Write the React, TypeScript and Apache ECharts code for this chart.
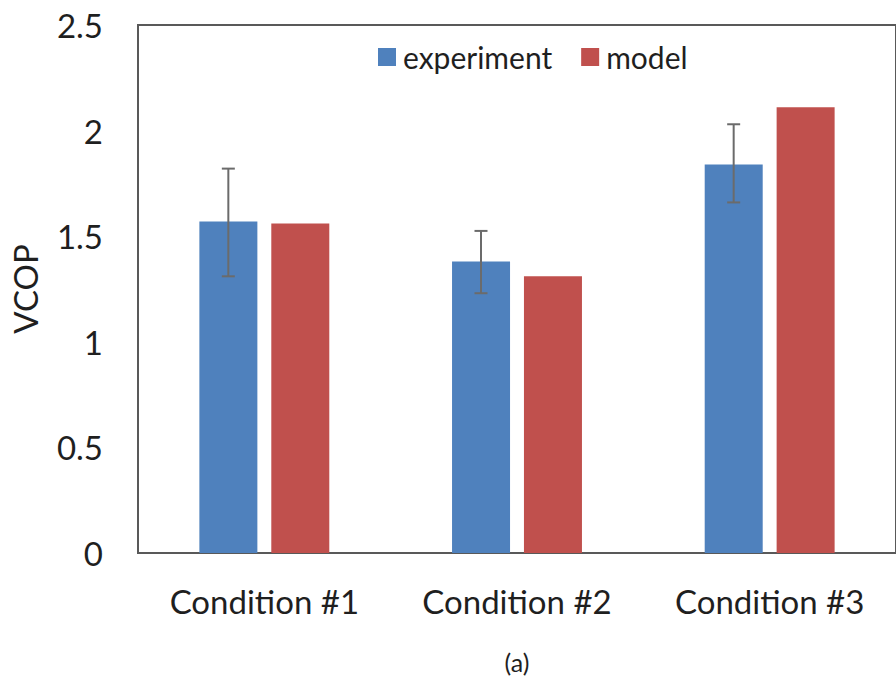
import React, { useEffect, useRef } from "react";
import * as echarts from "echarts";

const categories = ["Condition #1", "Condition #2", "Condition #3"];
const experiment = [1.57, 1.38, 1.84];
const model = [1.56, 1.31, 2.11];
const errLow = [1.31, 1.23, 1.66];
const errHigh = [1.82, 1.525, 2.03];
const yTicks = { min: 0, max: 2.5, interval: 0.5 };

const FONT = "Lato";
const TEXT = "#1f1f1f";

export default function App() {
  const ref = useRef<HTMLDivElement>(null);
  useEffect(() => {
    if (!ref.current) return;
    document.body.style.margin = "0";
    const chart = echarts.init(ref.current, undefined, { renderer: "svg" });
    const errData = categories.map((_, i) => [i, errLow[i], errHigh[i]]);
    chart.setOption({
      animation: false,
      backgroundColor: "#ffffff",
      grid: {
        left: 137,
        top: 25,
        width: 766,
        height: 528,
        show: true,
        borderColor: "#595959",
        borderWidth: 2,
      },
      legend: {
        top: 37,
        left: 373,
        itemWidth: 18,
        itemHeight: 18,
        itemGap: 29,
        icon: "rect",
        textStyle: { fontFamily: FONT, fontSize: 30, color: TEXT, padding: [0, 0, 0, 2] },
        data: ["experiment", "model"],
      },
      xAxis: {
        type: "category",
        data: categories,
        axisLine: { lineStyle: { color: "#595959", width: 2 } },
        axisTick: { show: false },
        axisLabel: { fontFamily: FONT, fontSize: 33, color: TEXT, margin: 31 },
      },
      yAxis: {
        type: "value",
        min: yTicks.min,
        max: yTicks.max,
        interval: yTicks.interval,
        name: "VCOP",
        nameLocation: "middle",
        nameGap: 97,
        nameTextStyle: { fontFamily: FONT, fontSize: 33, color: TEXT },
        axisLine: { show: true, lineStyle: { color: "#595959", width: 2 } },
        axisTick: { show: false },
        splitLine: { show: false },
        axisLabel: { fontFamily: FONT, fontSize: 33, color: TEXT, margin: 35 },
      },
      series: [
        {
          name: "experiment",
          type: "bar",
          data: experiment,
          barWidth: 58,
          barGap: "24%",
          itemStyle: { color: "#4F81BD" },
        },
        {
          name: "model",
          type: "bar",
          data: model,
          barWidth: 58,
          itemStyle: { color: "#C0504D" },
        },
        {
          type: "custom",
          name: "error",
          data: errData,
          z: 10,
          renderItem: (params: any, api: any) => {
            const idx = api.value(0);
            const lo = api.coord([idx, api.value(1)]);
            const hi = api.coord([idx, api.value(2)]);
            const x = lo[0] - 36;
            const cap = 6.5;
            const style = { stroke: "#6b6b6b", lineWidth: 2 };
            return {
              type: "group",
              children: [
                { type: "line", shape: { x1: x, y1: lo[1], x2: x, y2: hi[1] }, style },
                { type: "line", shape: { x1: x - cap, y1: hi[1], x2: x + cap, y2: hi[1] }, style },
                { type: "line", shape: { x1: x - cap, y1: lo[1], x2: x + cap, y2: lo[1] }, style },
              ],
            };
          },
        },
      ],
      graphic: [
        {
          type: "text",
          x: 517,
          y: 662,
          style: {
            text: "(a)",
            fontFamily: FONT,
            fontSize: 25,
            fill: TEXT,
            align: "center",
            verticalAlign: "middle",
          },
        },
      ],
    });
    return () => chart.dispose();
  }, []);
  return <div ref={ref} style={{ width: 896, height: 684 }} />;
}
